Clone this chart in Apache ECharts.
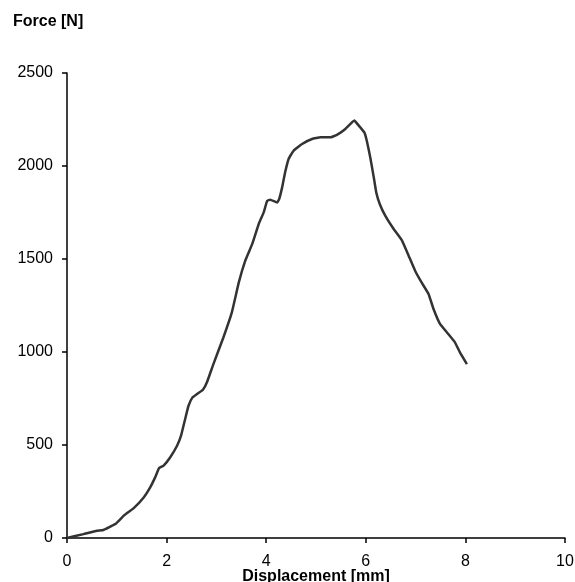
<!DOCTYPE html>
<html>
<head>
<meta charset="utf-8">
<script src="https://cdn.jsdelivr.net/npm/echarts@6/dist/echarts.min.js"></script>
<style>
  html, body { margin: 0; padding: 0; background: #fff; }
  #chart { width: 575px; height: 582px; }
</style>
</head>
<body>
<div id="chart"></div>
<script>
// Displacement [mm] and force [N]
const displacement = [0, 0.33, 0.60, 0.73, 0.97, 1.14, 1.34, 1.54, 1.67, 1.77, 1.85, 1.94, 2.07, 2.21, 2.29, 2.38, 2.44, 2.52, 2.61, 2.73, 2.81, 2.94, 3.14, 3.31, 3.45, 3.58, 3.72, 3.85, 3.95, 4.02, 4.08, 4.22, 4.26, 4.32, 4.38, 4.45, 4.55, 4.72, 4.92, 5.09, 5.29, 5.42, 5.59, 5.77, 5.86, 5.97, 6.02, 6.09, 6.16, 6.21, 6.28, 6.39, 6.56, 6.73, 6.86, 6.99, 7.12, 7.26, 7.36, 7.49, 7.63, 7.79, 7.89, 8.03];
const force = [0, 21, 39, 43, 75, 120, 161, 218, 272, 326, 376, 389, 433, 496, 550, 648, 711, 756, 774, 797, 837, 935, 1078, 1213, 1374, 1491, 1581, 1688, 1751, 1813, 1819, 1804, 1822, 1885, 1966, 2038, 2082, 2118, 2145, 2154, 2154, 2167, 2199, 2244, 2217, 2181, 2136, 2046, 1939, 1858, 1796, 1733, 1661, 1598, 1518, 1437, 1374, 1312, 1231, 1151, 1105, 1052, 998, 935];

const chart = echarts.init(document.getElementById('chart'));

const font = 'Liberation Sans, Arial, sans-serif';
const axisLine = { lineStyle: { color: '#000', width: 1.5 } };
const axisTick = { length: 5, lineStyle: { color: '#000', width: 1.5 } };
const labelFont = { color: '#000', fontSize: 16, fontFamily: font };

chart.setOption({
    animation: false,
    grid: { left: 67, right: 10, top: 73, bottom: 44, containLabel: false, outerBoundsMode: 'none' },
    xAxis: {
        type: 'value',
        min: 0, max: 10, interval: 2,
        name: 'Displacement [mm]',
        nameLocation: 'middle',
        nameGap: 31,
        nameMoveOverlap: false,
        nameTextStyle: { color: '#000', fontSize: 16, fontWeight: 'bold', fontFamily: font },
        axisLine, axisTick,
        axisLabel: Object.assign({ margin: 16 }, labelFont),
        splitLine: { show: false }
    },
    yAxis: {
        type: 'value',
        min: 0, max: 2500, interval: 500,
        name: 'Force [N]',
        nameLocation: 'end',
        nameGap: 0,
        nameMoveOverlap: false,
        nameTextStyle: { color: '#000', fontSize: 16, fontWeight: 'bold', fontFamily: font, align: 'left', padding: [0, 0, 43, -54] },
        axisLine, axisTick,
        axisLabel: Object.assign({ margin: 14, formatter: v => String(v) }, labelFont),
        splitLine: { show: false }
    },
    series: [{
        type: 'line',
        data: displacement.map((d, i) => [d, force[i]]),
        showSymbol: false,
        smooth: 0.1,
        lineStyle: { color: '#333', width: 2.5 }
    }]
});
</script>
</body>
</html>
